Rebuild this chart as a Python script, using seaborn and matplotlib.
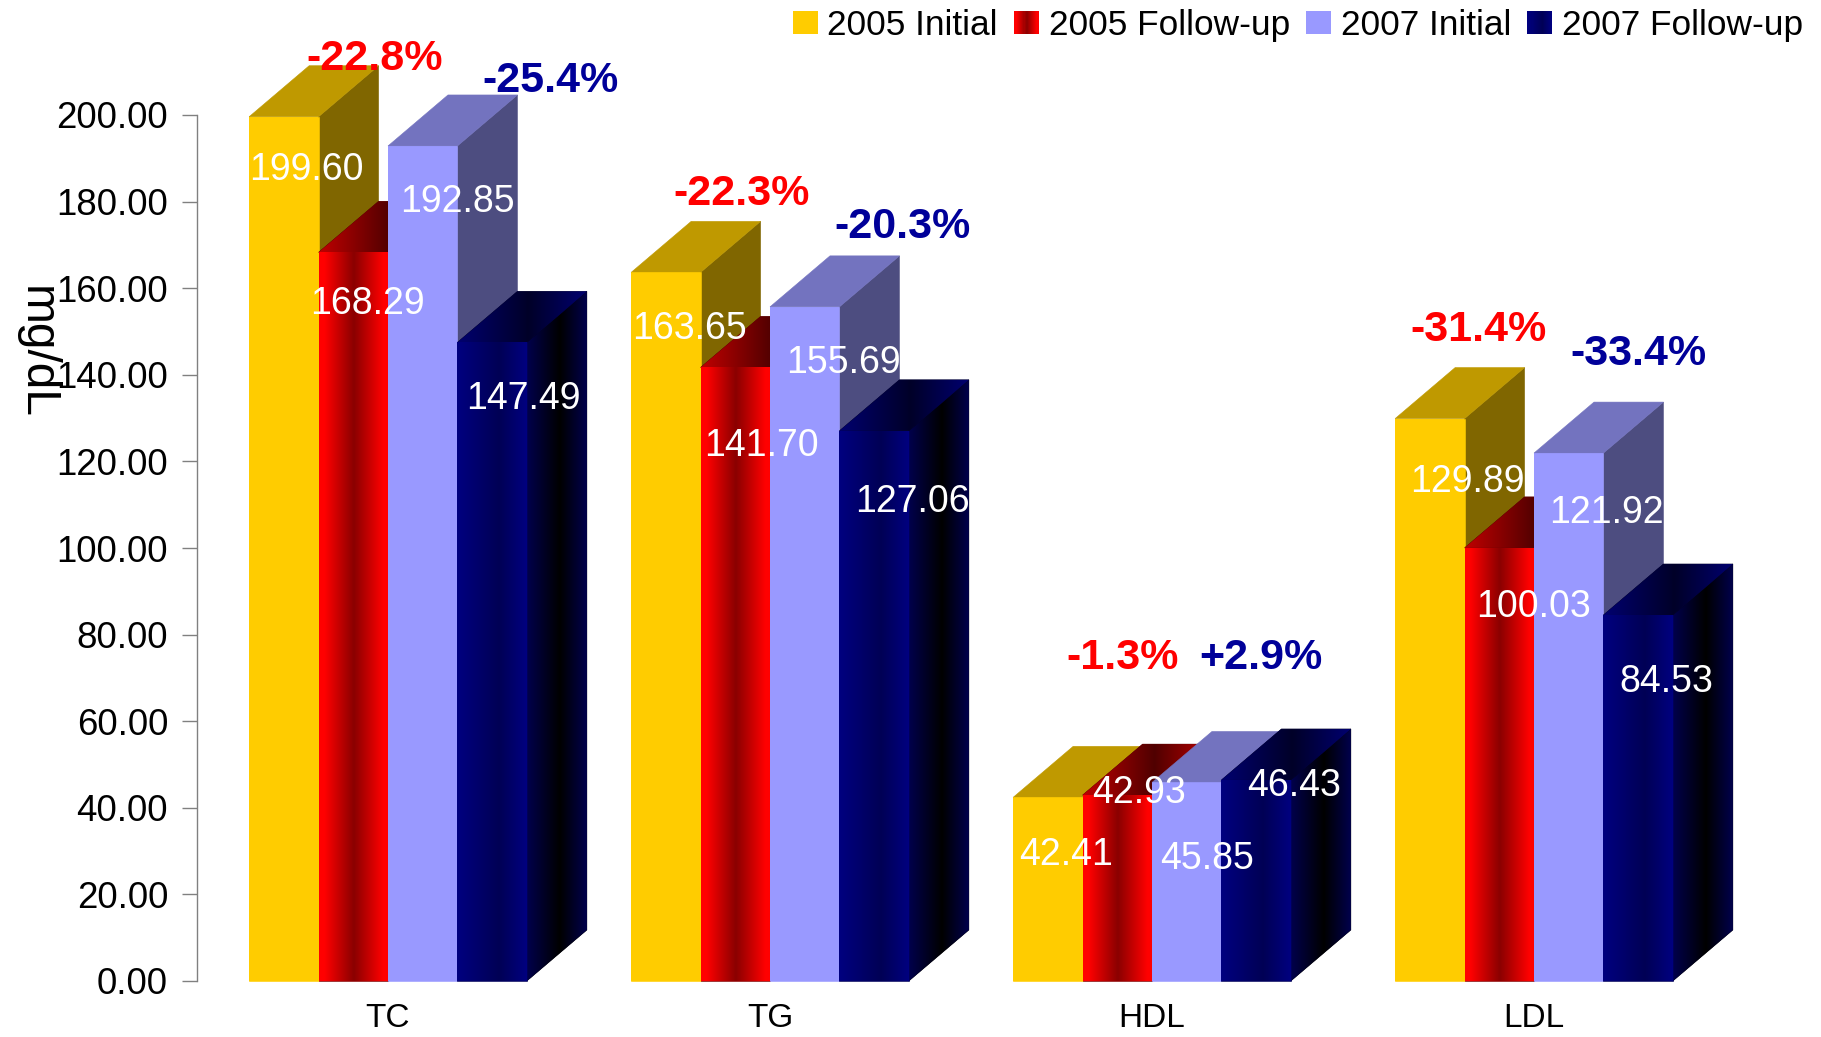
import matplotlib
matplotlib.use("Agg")
import matplotlib.pyplot as plt
import numpy as np
import pandas as pd
import seaborn as sns
from matplotlib.colors import LinearSegmentedColormap
from matplotlib.legend_handler import HandlerBase
from matplotlib.patches import Polygon, Rectangle

# ---------- data ----------
categories = ["TC", "TG", "HDL", "LDL"]
series_names = ["2005 Initial", "2005 Follow-up", "2007 Initial", "2007 Follow-up"]
initial_2005 = [199.60, 163.65, 42.41, 129.89]
followup_2005 = [168.29, 141.70, 42.93, 100.03]
initial_2007 = [192.85, 155.69, 45.85, 121.92]
followup_2007 = [147.49, 127.06, 46.43, 84.53]
change_2005 = ["-22.8%", "-22.3%", "-1.3%", "-31.4%"]
change_2007 = ["-25.4%", "-20.3%", "+2.9%", "-33.4%"]
y_ticks = [0, 20, 40, 60, 80, 100, 120, 140, 160, 180, 200]

# ---------- layout / style ----------
W, H = 1821, 1037
SCALE = W / 1568
DEPTH_X, DEPTH_Y = 60, 51  # px
value_offsets = [  # per series, per category, from bar top centre (reference px / SCALE)
    [(19, 45.5), (20, 48.4), (16, 50), (32, 54.5)],
    [(12.4, 44.7), (22.4, 67.5), (18.4, -2), (29.4, 51)],
    [(29.7, 48.3), (33.7, 48.7), (17.7, 66), (32.7, 52)],
    [(27, 49), (33, 61), (33, 5), (24, 58)],
]
change_offsets_2005 = [(78, -49.5), (65, -67.6), (64, -120), (42, -76.5)]
change_offsets_2007 = [(110, -55.7), (84, -69), (64, -107), (60, -85)]

grad = lambda *c: LinearSegmentedColormap.from_list("g", list(c))
flat = {"2005 Initial": ("#FFCC00", "#BF9900", "#806600"),
        "2007 Initial": ("#9999FF", "#7373BF", "#4D4D80")}
ramps = {
    "2005 Follow-up": (
        grad((0, "#FF0000"), (0.08, "#FF0000"), (0.5, "#8A0000"), (0.92, "#FF0000"), (1, "#FF0000")),
        grad((0, "#BF0000"), (0.55, "#500000"), (1, "#BF0000")),
        grad((0, "#800000"), (0.5, "#200000"), (1, "#800000")),
    ),
    "2007 Follow-up": (
        grad((0, "#000080"), (0.6, "#000055"), (1, "#000080")),
        grad((0, "#000070"), (0.55, "#000028"), (1, "#000070")),
        grad((0, "#00004C"), (0.55, "#000000"), (1, "#00004C")),
    ),
}
palette = {"2005 Initial": "#FFCC00", "2005 Follow-up": "#C00000",
           "2007 Initial": "#9999FF", "2007 Follow-up": "#000070"}

sns.set_style("white")
plt.rcParams["font.family"] = ["Liberation Sans", "DejaVu Sans"]

df = pd.DataFrame({
    "category": categories * 4,
    "series": np.repeat(series_names, 4),
    "value": initial_2005 + followup_2005 + initial_2007 + followup_2007,
})

fig = plt.figure(figsize=(W / 100, H / 100), dpi=100, facecolor="white")
ax = fig.add_axes([197 / W, 1 - 981 / H, (1725 - 197) / W, (981 - 115) / H])
sns.barplot(data=df, x="category", y="value", hue="series", order=categories,
            hue_order=series_names, palette=palette, width=0.727, gap=0,
            saturation=1, legend=False, errorbar=None, ax=ax, linewidth=0)
ax.set_xlim(-0.5, 3.5)
ax.set_ylim(0, 200)
ax.set_autoscale_on(False)

ax_w = (1725 - 197)
ax_h = (981 - 115)
dx = DEPTH_X * 4 / ax_w
dy = DEPTH_Y * 200 / ax_h


def face(verts, style, z):
    if isinstance(style, str):
        ax.add_patch(Polygon(verts, closed=True, clip_on=False, zorder=z,
                             facecolor=style, edgecolor=style, linewidth=0.4))
        return
    # solid underlay in the ramp's mid colour hides antialiasing seams at the clip edge
    under = style(0.5)
    poly = Polygon(verts, closed=True, clip_on=False, zorder=z, facecolor=under,
                   edgecolor=under, linewidth=0.4)
    ax.add_patch(poly)
    xs = [v[0] for v in verts]
    ys = [v[1] for v in verts]
    im = ax.imshow(np.linspace(0, 1, 256)[None, :], cmap=style, aspect="auto",
                   extent=(min(xs), max(xs), min(ys), max(ys)), zorder=z,
                   interpolation="bilinear")
    im.set_clip_path(poly)
    im.set_clip_box(fig.bbox)


tops = {}
for s, (name, container) in enumerate(zip(series_names, ax.containers)):
    front, top, side = ramps.get(name, flat.get(name))
    for c, bar in enumerate(container):
        x0, x1 = bar.get_x(), bar.get_x() + bar.get_width()
        h = bar.get_height()
        z = 10 + s * 3
        tops[(s, c)] = ((x0 + x1) / 2, h)
        face([(x1, 0), (x1 + dx, dy), (x1 + dx, h + dy), (x1, h)], side, z)
        face([(x0, h), (x0 + dx, h + dy), (x1 + dx, h + dy), (x1, h)], top, z + 1)
        face([(x0, 0), (x0, h), (x1, h), (x1, 0)], front, z + 2)
        bar.set_zorder(z)

PX = 72 / 100


def annotate(s, c, text, off, **kw):
    ax.annotate(text, xy=tops[(s, c)], xycoords="data",
                xytext=(off[0] * SCALE * PX, -off[1] * SCALE * PX),
                textcoords="offset points", ha="center", va="center",
                annotation_clip=False, zorder=40, **kw)


values = [initial_2005, followup_2005, initial_2007, followup_2007]
for s, vals in enumerate(values):
    for c, v in enumerate(vals):
        annotate(s, c, f"{v:.2f}", value_offsets[s][c], color="white", fontsize=27)

for c in range(4):
    annotate(0, c, change_2005[c], change_offsets_2005[c], color="#FF0000",
             fontsize=31, fontweight="bold")
    annotate(2, c, change_2007[c], change_offsets_2007[c], color="#000099",
             fontsize=31, fontweight="bold")

# axes
sns.despine(ax=ax, top=True, right=True, bottom=True)
ax.spines["left"].set_color("#808080")
ax.spines["left"].set_linewidth(1)
ax.set_yticks(y_ticks)
ax.set_yticklabels([f"{t:.2f}" for t in y_ticks])
ax.tick_params(axis="y", left=True, length=10.8, width=1, color="#808080",
               pad=10, labelsize=26.4, labelcolor="black")
ax.tick_params(axis="x", bottom=False, pad=12.5, labelsize=24, labelcolor="black")
ax.set_xlabel("")
ax.set_ylabel("")
fig.text(36 / W, 1 - 352 / H, "mg/dL", rotation=270, fontsize=34.5,
         ha="center", va="center", color="black")


# legend with banded handles for the gradient series
class GradHandler(HandlerBase):
    def create_artists(self, legend, orig, xd, yd, width, height, fontsize, trans):
        cmap = orig.cmap
        n = 24
        return [Rectangle((-xd + width * i / n, -yd), width / n * 1.1, height,
                          facecolor=cmap(i / (n - 1)), edgecolor="none", transform=trans)
                for i in range(n)]


handles = []
hmap = {}
for name in series_names:
    if name in ramps:
        p = Rectangle((0, 0), 1, 1)
        p.cmap = ramps[name][0]
        hmap[p] = GradHandler()
    else:
        p = Rectangle((0, 0), 1, 1, facecolor=palette[name], edgecolor="none")
    handles.append(p)
fig.legend(handles, series_names, handler_map=hmap, ncol=4, frameon=False,
           loc="upper right", bbox_to_anchor=(1803 / W, 1 - 9 / H), borderpad=0,
           borderaxespad=0, fontsize=25.4, handlelength=0.71, handleheight=0.6,
           handletextpad=0.27, columnspacing=0.46, labelcolor="black")

fig.savefig("out.png", dpi=100, facecolor="white")
